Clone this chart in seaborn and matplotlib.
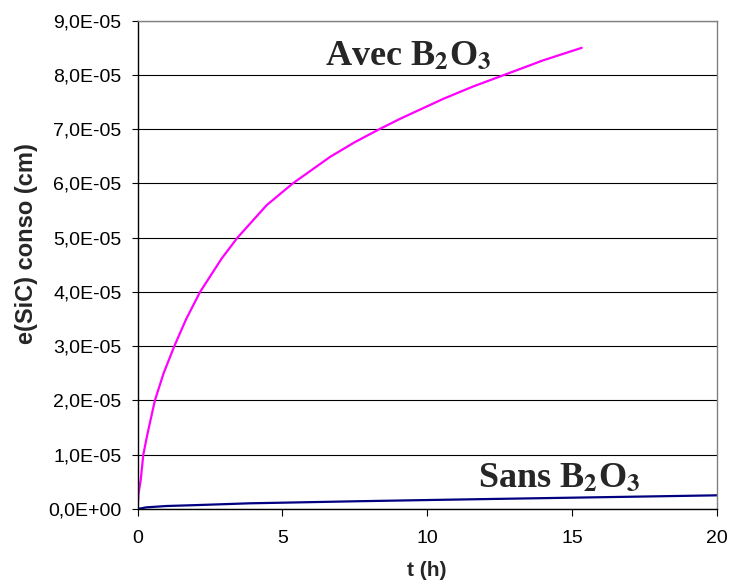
import numpy as np
import pandas as pd
import matplotlib
matplotlib.use("Agg")
import matplotlib.pyplot as plt
from matplotlib.ticker import FuncFormatter, MultipleLocator
import seaborn as sns

# Data
t_avec = [0, 0.04, 0.11, 0.2, 0.3, 0.4, 0.6, 0.9, 1.27, 1.68, 2.16, 2.91, 3.45,
          4.46, 5.36, 6.65, 7.5, 8.35, 9.06, 10.56, 11.6, 12.66, 14.01, 15.34]
e_avec = [0, 0.30e-5, 0.53e-5, 1.0e-5, 1.27e-5, 1.52e-5, 2.0e-5, 2.5e-5, 3.0e-5,
          3.5e-5, 4.0e-5, 4.62e-5, 5.0e-5, 5.6e-5, 6.0e-5, 6.49e-5, 6.76e-5,
          7.0e-5, 7.19e-5, 7.56e-5, 7.79e-5, 8.0e-5, 8.27e-5, 8.50e-5]
t_sans = [0, 0.3, 1, 2.04, 3.88, 4.98, 7.5, 10.1, 12.5, 14.93, 17.5, 20]
e_sans = [0, 0.30e-6, 0.55e-6, 0.72e-6, 1.05e-6, 1.16e-6, 1.42e-6, 1.66e-6,
          1.87e-6, 2.08e-6, 2.30e-6, 2.52e-6]
x_ticks = [0, 5, 10, 15, 20]
y_max = 9e-5

df = pd.concat([
    pd.DataFrame({"t": t_avec, "e": e_avec, "serie": "Avec"}),
    pd.DataFrame({"t": t_sans, "e": e_sans, "serie": "Sans"}),
])

sns.set_style("white")
plt.rcParams["font.family"] = ["Liberation Sans", "DejaVu Sans"]
plt.rcParams["mathtext.fontset"] = "stix"

fig = plt.figure(figsize=(7.31, 5.83), dpi=100)
ax = fig.add_axes([137.5 / 731, 1 - 509 / 583, 579.2 / 731, 488.3 / 583])

sns.lineplot(data=df, x="t", y="e", hue="serie",
             palette={"Avec": "#FF00FF", "Sans": "#000080"},
             estimator=None, sort=False, linewidth=1.6, legend=False, ax=ax)
for ln in ax.get_lines():
    ln.set_solid_joinstyle("round")

ax.set_xlim(0, 20)
ax.set_ylim(0, y_max)
ax.set_xticks(x_ticks)
ax.yaxis.set_major_locator(MultipleLocator(1e-5))
ax.yaxis.set_major_formatter(FuncFormatter(lambda v, p: f"{v:.1E}".replace(".", ",")))
ax.xaxis.set_major_formatter(FuncFormatter(lambda v, p: f"{v:g}"))

ax.grid(axis="y", color="black", linewidth=0.8)
ax.grid(axis="x", visible=False)
ax.set_axisbelow(True)

for s in ["left", "bottom"]:
    ax.spines[s].set_color("black")
    ax.spines[s].set_linewidth(1.0)
for s in ["top", "right"]:
    ax.spines[s].set_color("#808080")
    ax.spines[s].set_linewidth(1.0)

ax.tick_params(axis="y", direction="out", length=4.5, width=0.8, pad=7,
               labelsize=14, left=True, colors="black")
ax.tick_params(axis="x", direction="out", length=5, width=0.8, pad=10,
               labelsize=14, bottom=True, colors="black")

ax.set_xlabel("t (h)", fontsize=15, fontweight="bold")
ax.set_ylabel("e(SiC) conso (cm)", fontsize=17, fontweight="bold")
ax.xaxis.set_label_coords(0.5, -0.125)
ax.xaxis.label.set_va("center")
ax.yaxis.set_label_coords(-0.191, 0.543)
ax.yaxis.label.set_va("center")

txt_kw = dict(fontsize=26, fontweight="bold", family=["Liberation Serif"],
              va="baseline", ha="left", transform=ax.transAxes)
ax.text(0.324, 0.909, r"Avec B$_{\mathbf{2}}$O$_{\mathbf{3}}$", **txt_kw)
ax.text(0.588, 0.0444, r"Sans B$_{\mathbf{2}}$O$_{\mathbf{3}}$", **txt_kw)

fig.savefig("out.png", dpi=100)
